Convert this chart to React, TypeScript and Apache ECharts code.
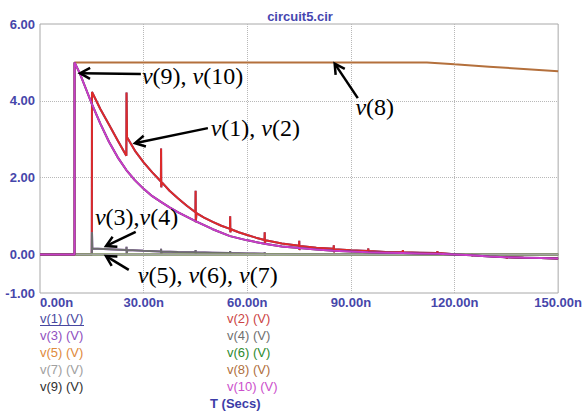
import React, { useEffect, useRef } from "react";
import * as echarts from "echarts";

// ---- data ----
const seriesNames = ["v(1)", "v(2)", "v(3)", "v(4)", "v(5)", "v(6)", "v(7)", "v(8)", "v(9)", "v(10)"];
const seriesColors = ["#4848a0", "#dd2a2a", "#9050c0", "#6e6e6e", "#e08a3c", "#2e8b2e", "#a4a4a4", "#b4703c", "#303030", "#c83cc8"];
const legendColors = ["#4848a0", "#cc4444", "#9050c0", "#707070", "#e08a3c", "#2e8b2e", "#a0a0a0", "#b07040", "#303030", "#cc50cc"];

// v(9), v(10): input pulse and its decay
const tPulse = [0, 10, 10, 11.5, 13, 15, 17.5, 20, 22.5, 25, 27.5, 30, 32.5, 35, 37.5, 40, 45, 50, 55, 60, 65, 70, 75, 80, 85, 90, 95, 100, 105, 110, 115, 120, 125, 130, 135, 140, 145, 150];
const vPulse = [0, 0, 5.0, 4.72, 4.38, 3.92, 3.4, 2.93, 2.53, 2.2, 1.93, 1.71, 1.52, 1.37, 1.23, 1.1, 0.87, 0.66, 0.48, 0.37, 0.28, 0.21, 0.17, 0.13, 0.1, 0.08, 0.06, 0.05, 0.04, 0.03, 0.02, 0.0, -0.02, -0.05, -0.07, -0.08, -0.09, -0.1];

// v(1), v(2)
const tRC = [0, 15, 15.05, 17.5, 20, 22.5, 25, 25.05, 25.2, 27.5, 30, 32.5, 35, 35.05, 35.1, 35.3, 37.5, 40, 42.5, 45, 45.05, 45.1, 45.3, 47.5, 50, 52.5, 55, 55.05, 55.1, 55.3, 57.5, 60, 62.5, 65, 65.05, 65.1, 65.3, 70, 75, 75.05, 75.1, 75.3, 80, 85, 85.05, 85.1, 85.3, 90, 95, 95.05, 95.1, 95.3, 100, 105, 105.05, 105.1, 105.3, 110, 115, 115.05, 115.1, 115.3, 120, 125, 125.05, 125.1, 125.3, 130, 135, 135.05, 135.1, 135.3, 140, 145, 150];
const vRC = [0, 0, 4.23, 3.78, 3.38, 2.97, 2.57, 4.22, 3.05, 2.7, 2.4, 2.14, 1.9, 2.76, 1.75, 1.88, 1.66, 1.46, 1.27, 1.1, 1.66, 0.84, 1.08, 0.96, 0.85, 0.75, 0.67, 1.0, 0.58, 0.66, 0.58, 0.51, 0.44, 0.38, 0.58, 0.28, 0.37, 0.29, 0.23, 0.36, 0.12, 0.22, 0.18, 0.15, 0.24, 0.06, 0.14, 0.11, 0.09, 0.16, 0.04, 0.09, 0.07, 0.06, 0.12, 0.02, 0.06, 0.05, 0.04, 0.09, 0.0, 0.04, 0.01, -0.01, 0.04, -0.04, -0.01, -0.04, -0.07, -0.03, -0.1, -0.07, -0.08, -0.09, -0.1];

// v(3), v(4)
const tSmall = [0, 15, 15.05, 15.15, 20, 25, 25.05, 25.1, 25.3, 30, 35, 35.05, 35.1, 35.3, 40, 45, 45.05, 45.1, 45.3, 50, 55, 55.05, 55.1, 55.3, 60, 65, 65.05, 65.1, 65.3, 75, 85, 100, 150];
const vSmall = [0, 0, 0.58, 0.16, 0.14, 0.12, 0.2, 0.03, 0.12, 0.1, 0.08, 0.15, 0.02, 0.08, 0.07, 0.06, 0.12, 0.0, 0.06, 0.05, 0.04, 0.09, -0.01, 0.04, 0.03, 0.02, 0.06, -0.02, 0.02, 0.01, 0.01, 0, 0];

// v(5), v(6), v(7)
const tZero = [0, 150];
const vZero = [0, 0];

// v(8)
const tHold = [0, 10, 10, 112, 120, 130, 140, 150];
const vHold = [0, 0, 5.0, 5.0, 4.95, 4.89, 4.83, 4.77];

const xTickValues = [0, 30, 60, 90, 120, 150];
const yLabelValues = [-1, 0, 2, 4, 6];

const seriesData: Array<[number[], number[]]> = [
  [tRC, vRC], [tRC, vRC],
  [tSmall, vSmall], [tSmall, vSmall],
  [tZero, vZero], [tZero, vZero], [tZero, vZero],
  [tHold, vHold],
  [tPulse, vPulse], [tPulse, vPulse],
];

// annotations in data coordinates (t in ns, value in V)
const annotations = [
  { parts: [["v", "(9), "], ["v", "(10)"]], at: [29.5, 4.65], tail: [29.2, 4.7], tip: [11.6, 4.72] },
  { parts: [["v", "(1), "], ["v", "(2)"]], at: [49.4, 3.29], tail: [48.6, 3.29], tip: [27.5, 2.9] },
  { parts: [["v", "(8)"]], at: [91.3, 3.84], tail: [92.0, 4.07], tip: [85.3, 4.97] },
  { parts: [["v", "(3),"], ["v", "(4)"]], at: [15.9, 0.98], tail: [27.7, 0.59], tip: [19.1, 0.22] },
  { parts: [["v", "(5), "], ["v", "(6), "], ["v", "(7)"]], at: [28.3, -0.53], tail: [25.7, -0.4], tip: [19.1, -0.04] },
];

const FONT = "'Liberation Sans', Arial, sans-serif";
const SERIF = "'Liberation Serif', 'Times New Roman', serif";
const AXIS_COLOR = "#4646aa";
const GRID_COLOR = "#b8b8b8";
const CLEAR = "rgba(0,0,0,0)";

export default function App() {
  const ref = useRef<HTMLDivElement>(null);

  useEffect(() => {
    if (!ref.current) return;
    const chart = echarts.init(ref.current, undefined, { renderer: "svg" });

    const series = seriesNames.map((name, i) => {
      const [ts, vs] = seriesData[i];
      return {
        name,
        type: "line",
        data: ts.map((t, k) => [t, vs[k]]),
        showSymbol: false,
        symbol: "none",
        lineStyle: { color: seriesColors[i], width: 2 },
        itemStyle: { color: seriesColors[i] },
        z: 2 + i,
      };
    });

    chart.setOption({
      animation: false,
      textStyle: { fontFamily: FONT },
      title: {
        text: "circuit5.cir",
        left: 300,
        top: 10,
        textAlign: "center",
        padding: 0,
        textStyle: { fontSize: 13, fontWeight: "bold", color: "#4646b0", fontFamily: FONT },
      },
      grid: {
        left: 40,
        right: 26,
        top: 24,
        bottom: 121,
        show: true,
        borderColor: "#a8a8a8",
        borderWidth: 1,
        backgroundColor: "#ffffff",
      },
      xAxis: {
        type: "value",
        min: xTickValues[0],
        max: xTickValues[xTickValues.length - 1],
        interval: 30,
        axisLine: { show: false },
        axisTick: { show: false },
        axisLabel: {
          margin: 3,
          fontSize: 13,
          fontWeight: "bold",
          color: AXIS_COLOR,
          fontFamily: FONT,
          alignMinLabel: "left",
          formatter: (v: number) => v.toFixed(2) + "n",
        },
        splitLine: {
          show: true,
          showMinLine: false,
          showMaxLine: false,
          lineStyle: { color: GRID_COLOR, type: "dotted", width: 1 },
        },
      },
      yAxis: {
        type: "value",
        min: -1,
        max: 6,
        interval: 1,
        axisLine: { show: false },
        axisTick: { show: false },
        axisLabel: {
          margin: 5,
          fontSize: 13,
          fontWeight: "bold",
          color: AXIS_COLOR,
          fontFamily: FONT,
          formatter: (v: number) => (yLabelValues.includes(Math.round(v)) ? v.toFixed(2) : ""),
        },
        splitLine: {
          show: true,
          showMinLine: false,
          showMaxLine: false,
          lineStyle: {
            color: [CLEAR, CLEAR, GRID_COLOR, CLEAR, GRID_COLOR, CLEAR],
            type: "dotted",
            width: 1,
          },
        },
      },
      series,
    });

    const px = (p: number[]) => chart.convertToPixel({ gridIndex: 0 }, p) as number[];

    const graphics: any[] = [];

    // legend (two columns)
    seriesNames.forEach((name, i) => {
      const col = i % 2;
      const row = Math.floor(i / 2);
      const x = col === 0 ? 40 : 227;
      const y = 318 + row * 17;
      graphics.push({
        type: "text",
        silent: true,
        x,
        y,
        style: {
          text: `${name} (V)`,
          fill: legendColors[i],
          fontSize: 13,
          fontFamily: FONT,
          verticalAlign: "middle",
          align: "left",
        },
      });
    });
    graphics.push({
      type: "line",
      silent: true,
      shape: { x1: 40, y1: 325.5, x2: 84, y2: 325.5 },
      style: { stroke: legendColors[0], lineWidth: 1 },
    });
    graphics.push({
      type: "text",
      silent: true,
      x: 210,
      y: 403,
      style: {
        text: "T (Secs)",
        fill: "#3c3ca8",
        fontSize: 13,
        fontWeight: "bold",
        fontFamily: FONT,
        verticalAlign: "middle",
        align: "left",
      },
    });

    // annotations
    annotations.forEach((a) => {
      const [tx, ty] = px(a.at);
      const text = a.parts.map(([it, rest]) => `{i|${it}}{n|${rest}}`).join("");
      graphics.push({
        type: "text",
        silent: true,
        x: tx,
        y: ty,
        z: 100,
        style: {
          text,
          fill: "#000",
          fontSize: 24,
          fontFamily: SERIF,
          verticalAlign: "middle",
          align: "left",
          rich: {
            i: { fontStyle: "italic", fontSize: 24, fontFamily: SERIF, fill: "#000" },
            n: { fontStyle: "normal", fontSize: 24, fontFamily: SERIF, fill: "#000" },
          },
        },
      });
      const [x1, y1] = px(a.tail);
      const [x2, y2] = px(a.tip);
      const dx = x2 - x1;
      const dy = y2 - y1;
      const len = Math.sqrt(dx * dx + dy * dy) || 1;
      const ux = dx / len;
      const uy = dy / len;
      const nx = -uy;
      const ny = ux;
      const L = 10;
      const W = 5.5;
      graphics.push({
        type: "line",
        silent: true,
        z: 100,
        shape: { x1, y1, x2: x2 - ux * 1, y2: y2 - uy * 1 },
        style: { stroke: "#000", lineWidth: 2.5 },
      });
      graphics.push({
        type: "polyline",
        silent: true,
        z: 100,
        shape: {
          points: [
            [x2 - ux * L + nx * W, y2 - uy * L + ny * W],
            [x2, y2],
            [x2 - ux * L - nx * W, y2 - uy * L - ny * W],
          ],
        },
        style: { stroke: "#000", lineWidth: 2.5, fill: null, lineJoin: "miter" },
      });
    });

    chart.setOption({ graphic: graphics });

    return () => {
      chart.dispose();
    };
  }, []);

  return (
    <div
      ref={ref}
      style={{ position: "fixed", left: 0, top: 0, width: 585, height: 414, background: "#ffffff" }}
    />
  );
}
